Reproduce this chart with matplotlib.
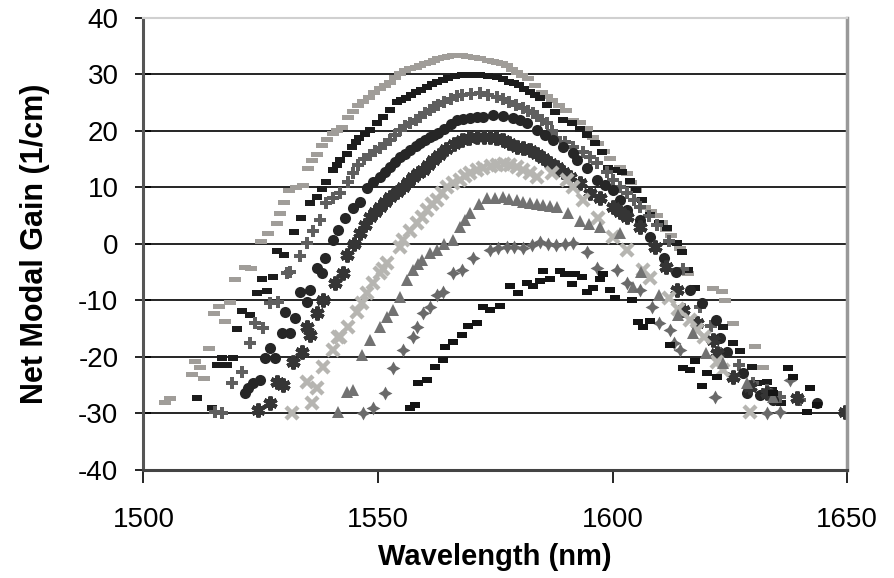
"""Net modal gain spectra at several drive levels (Excel-style scatter)."""

import matplotlib

matplotlib.use("Agg")
import matplotlib.pyplot as plt
from matplotlib.path import Path

# Series, ordered from highest peak gain to lowest.
wl_a = [1504.6, 1505.7, 1510.3, 1511, 1512, 1513, 1514, 1515, 1516, 1517.4, 1518.4,
        1519.5, 1521.6, 1523, 1525, 1526.5, 1528.5, 1529, 1530, 1531, 1532.5, 1534, 1535,
        1536, 1537, 1538, 1539.2, 1540.4, 1541.3, 1542.3, 1543.6, 1544.6, 1545.7, 1546.8,
        1548, 1549.2, 1550.4, 1551.5, 1552.6, 1553.6, 1554.7, 1555.8, 1556.8, 1558, 1559,
        1560, 1561, 1562, 1562.8, 1564, 1565, 1566, 1566.8, 1568, 1569, 1570.4, 1571.8,
        1573.5, 1574.5, 1575.4, 1576.5, 1577.5, 1578.5, 1579.6, 1580.8, 1582, 1583.5,
        1585, 1586, 1587, 1588.5, 1590, 1591.6, 1593, 1594.5, 1595.8, 1597, 1598.2,
        1599.5, 1601.6, 1603, 1604, 1605, 1606, 1607, 1608.3, 1609.5, 1610.5, 1611.5,
        1612.5, 1614.4, 1616, 1621.4, 1623.4, 1624, 1625.7, 1630.4, 1632]
gain_a = [-28, -27.3, -23, -20.7, -21.8, -23.7, -18.4, -12.2, -11, -13.6, -10.3,
          -6.2, -4.1, -4.3, 0.5, 2, 3.7, 5.5, 7.5, 9.6, 10, 10.4, 13.5,
          14.8, 16, 17.5, 18.5, 19.6, 20.2, 20.7, 22.5, 23.5, 24.6, 25.3,
          26, 26.9, 27.6, 28.2, 28.7, 29.5, 30.3, 30.7, 31.1, 31.4, 31.7,
          32, 32.2, 32.6, 32.9, 33.1, 33.3, 33.4, 33.5, 33.4, 33.3, 33.1, 32.9,
          32.6, 32.4, 32.2, 32, 31.7, 31, 30.4, 29.9, 29.4, 28.2,
          26.9, 26.2, 25.5, 24.6, 23.7, 22, 21.5, 20.5, 19, 17.8, 16.5,
          15.2, 13.6, 12.5, 11, 9.5, 8, 6.5, 5.8, 5.1, 3.9, 2.7,
          1.5, -0.7, -5.1, -7.8, -8.3, -9.9, -14, -18, -21.8]

wl_b = [1511.4, 1514.6, 1515.7, 1516.7, 1517.8, 1519, 1519.9, 1521, 1522.7, 1524.2,
        1525.3, 1526.3, 1527.6, 1528.5, 1530, 1532, 1533.5, 1535.5, 1537, 1538, 1539,
        1540.4, 1541.2, 1542, 1543.3, 1544.5, 1545.3, 1546, 1547.2, 1548.3, 1549.8, 1551,
        1552.6, 1554, 1555, 1556, 1557, 1558, 1559.2, 1560.4, 1561.5, 1562.6, 1563.8,
        1565, 1566.5, 1568, 1569.8, 1571.7, 1573.5, 1575.4, 1576.7, 1578, 1579, 1580,
        1581.2, 1582.4, 1583.5, 1584.5, 1586, 1587.7, 1589.5, 1591.4, 1593, 1594.5,
        1596.3, 1597.7, 1599, 1600.5, 1602, 1603.8, 1605, 1606.3, 1608, 1610, 1611.6,
        1613.7, 1614.8, 1616, 1617.6, 1623.6, 1625.7, 1627.2, 1629.8, 1630.8, 1633,
        1634, 1636]
gain_b = [-27.3, -29, -21.4, -20.2, -21.4, -20.2, -15, -11.9, -12.6, -8.7,
          -6.2, -8.3, -5.8, -1.2, -2, 2.1, 4.5, 7.3, 8.3, 9.8, 11,
          13.1, 14, 14.9, 16, 17.2, 18, 18.8, 19.5, 20.2, 21.4, 22.5,
          23.7, 25.1, 25.5, 25.8, 26.4, 26.9, 27.3, 27.8, 28.3, 28.7, 29.1,
          29.4, 29.7, 29.9, 29.9, 29.9, 29.8, 29.6, 29.2, 28.7, 28.4, 28.1,
          27.5, 26.9, 26.3, 25.8, 24.6, 23.3, 21.9, 21.4, 20.3, 19.3,
          17.9, 16.3, 13.5, 13, 12.7, 11.2, 9.5, 7.8, 5.1, 3.7, 2.8,
          0.2, -1.4, -4.6, -7.8, -14.7, -17.5, -19, -21.8, -24.6, -24.4,
          -25.8, -28.1]

wl_c = [1515.2, 1516.7, 1518.9, 1521, 1522.7, 1523.8, 1525.5, 1527, 1528.7, 1530.6,
        1531.2, 1533.4, 1534.9, 1536.2, 1537.6, 1539, 1540.5, 1542, 1543.6, 1544.6,
        1545.7, 1547, 1548.3, 1549.3, 1550.4, 1551.5, 1552.6, 1553.6, 1554.7, 1555.8,
        1556.8, 1558, 1559, 1560, 1561, 1562, 1562.8, 1564, 1565.5, 1566.8, 1568,
        1569.8, 1571.7, 1573.5, 1575.4, 1576.7, 1578, 1579.5, 1581, 1582, 1583, 1584,
        1585, 1586, 1587, 1588, 1589.8, 1591.6, 1593.7, 1595.2, 1596.7, 1598.8, 1600.2,
        1601.6, 1603, 1604.5, 1605.9, 1607.7, 1609.5, 1612, 1615, 1618.7, 1621, 1623,
        1627, 1630, 1633, 1635.7, 1640]
gain_c = [-29.7, -29.9, -24.6, -22.6, -17.5, -14, -14.9, -10.4, -10.3, -5.1,
          -5, -2.1, 0.2, 2.2, 4.2, 7.3, 8.2, 9, 11, 12.5,
          14, 15, 15.8, 16.4, 17, 17.7, 18.4, 19.3, 20.2, 20.8,
          21.4, 22, 22.5, 23.1, 23.7, 24.2, 24.6, 25.1, 25.7, 26.1, 26.4,
          26.6, 26.7, 26.4, 26, 25.6, 25.1, 24.6, 24.1, 23.6, 23.2, 22.6,
          21.9, 21.4, 20, 18.8, 18, 17.2, 16.3, 15.3, 14.3, 12.7, 11.4,
          10.1, 9, 7.8, 6.5, 5, 3.4, 0.5, -4.5, -11.2, -14.5, -19.3,
          -21.5, -24.6, -25.8, -27.1, -27.6]

wl_d = [1521.6, 1522.3, 1523.4, 1524.8, 1525.9, 1527, 1528, 1529.5, 1530.2, 1531.2,
        1532.3, 1533.4, 1534.8, 1535.5, 1537, 1538, 1538.7, 1540.4, 1541.5, 1543, 1544.7,
        1546.2, 1547.6, 1549, 1550.4, 1551.5, 1552.6, 1553.6, 1554.7, 1555.8, 1556.8,
        1558, 1559, 1560, 1561, 1562, 1562.8, 1564, 1565.5, 1566.8, 1568.2, 1569.6,
        1571, 1572.4, 1574.5, 1576.6, 1578.8, 1580.3, 1581.8, 1583.9, 1585.6, 1587.3,
        1589.5, 1591.6, 1592.4, 1594.5, 1596.7, 1598.4, 1600.1, 1601.5, 1603, 1605.9,
        1608, 1611, 1613.5, 1616.5, 1619, 1622, 1622.9, 1624.4, 1627.8, 1628.7, 1631.5,
        1634.2, 1643.6]
gain_d = [-26.4, -25.5, -24.6, -24.1, -20.2, -18.4, -20.2, -15.8, -12, -15.8,
          -13.1, -8.5, -10.3, -8.1, -4.2, -5.1, -2.5, 0.7, 2.5, 4.5, 6.4,
          7.4, 9.9, 11, 11.9, 12.8, 13.6, 14.5, 15.4, 16, 16.6,
          17.3, 17.9, 18.4, 18.9, 19.3, 19.6, 20.3, 21.2, 21.9, 22.1, 22.3,
          22.4, 22.5, 22.8, 22.6, 22.3, 21.9, 21.4, 20.2, 19.3, 18.4,
          17.2, 16.1, 14.9, 13.5, 11.3, 10.4, 9.6, 7.8, 6, 4.2,
          1.2, -2.5, -5, -8.1, -10.5, -13.5, -16.6, -19.1, -22.8, -26.4, -26.7,
          -27.6, -28.1]

wl_e = [1524.4, 1527, 1528.5, 1529.8, 1531.9, 1533.8, 1534.8, 1535.5, 1537, 1538.3,
        1540.8, 1542.5, 1543.4, 1544.8, 1546.2, 1547.2, 1548.3, 1549.4, 1550.4, 1551.5,
        1552.6, 1554, 1555.3, 1556.4, 1557.5, 1558.6, 1559.6, 1560.7, 1561.7, 1563,
        1564.5, 1566.2, 1568, 1569.5, 1571, 1572.5, 1573.9, 1575.2, 1576.6, 1578, 1579.6,
        1581, 1582.4, 1583.8, 1585.2, 1586.7, 1588.2, 1589.5, 1590.9, 1593, 1595.2,
        1597.3, 1600, 1601.5, 1603, 1605.9, 1609, 1611.5, 1613.7, 1615, 1618, 1621.4,
        1622.3, 1625.7, 1629.3, 1633, 1639.4, 1649.6]
gain_e = [-29.4, -28.1, -24.4, -25, -20.9, -19.1, -14.7, -16.1, -12.2, -9.9,
          -6.9, -5.1, -1.9, 0, 1.9, 3.4, 4.8, 5.6, 6.5, 7.4,
          8.3, 9.2, 10.1, 11, 11.9, 12.5, 13.1, 14, 14.9, 15.8,
          16.8, 17.6, 18.4, 18.7, 18.9, 18.9, 18.9, 18.7, 18.4, 17.8, 17.2,
          16.9, 16.6, 15.9, 15.2, 14.4, 13.6, 12.8, 11.9, 10.8, 9,
          8.1, 6.5, 5.6, 4.8, 3, -0.5, -4, -8.1, -11.7, -14, -17,
          -19.3, -23.5, -25.3, -26.4, -27.3, -29.7]

wl_f = [1531.6, 1534.8, 1535.9, 1537, 1538.3, 1540.4, 1541.5, 1542, 1543.6, 1545.5,
        1546.5, 1547.6, 1549, 1550.4, 1551, 1552, 1554.7, 1555.3, 1556.8, 1558.3, 1559.3,
        1560.4, 1561.5, 1562.6, 1563.6, 1564.7, 1566, 1567.5, 1568.5, 1569.6, 1571,
        1572.4, 1574, 1575.4, 1576.8, 1578.2, 1579.6, 1581, 1582.5, 1583.9, 1587,
        1590.3, 1591.6, 1593.7, 1597, 1600.1, 1603, 1606.5, 1608, 1612, 1614, 1616.5,
        1618, 1619.4, 1622.3, 1623.6, 1629.3]
gain_f = [-29.9, -24.4, -28.1, -25.5, -21.8, -18.8, -16.5, -16.5, -14.7, -12,
          -10.5, -8.7, -7, -5.1, -4.5, -3.4, -0.5, 0.7, 2.2, 3.7, 4.8,
          6, 7, 7.8, 9, 10.1, 10.7, 11.3, 12, 12.6, 13,
          13.5, 13.8, 14, 14.1, 14, 13.6, 13.1, 12.5, 11.9, 12.5,
          11.3, 10.1, 7.8, 4.5, 1.2, -1, -4.6, -6, -9.5, -11.5, -13.5,
          -15.2, -16.5, -20.9, -22.3, -29.7]

wl_g = [1541.5, 1543.4, 1544.7, 1546.6, 1548.3, 1550.4, 1552, 1553.2, 1554.7, 1556.2,
        1557.5, 1558.5, 1559.4, 1561, 1562.6, 1564, 1566, 1567.5, 1568.5, 1569.6, 1571.5,
        1573.2, 1575, 1576.6, 1578, 1579.6, 1581, 1582.4, 1583.8, 1585.2, 1586.7,
        1588.2, 1590.5, 1593, 1595, 1597.3, 1601.6, 1604.4, 1606, 1610, 1614, 1617.2,
        1620, 1623.6, 1628.7, 1634.2]
gain_g = [-29.7, -26.2, -25.8, -19.6, -17, -14.7, -12.9, -11.7, -9.4, -6.4,
          -4.6, -3.5, -2.8, -1.6, -1.1, 0, 0.7, 3, 4.2, 5.5, 7,
          8.1, 8.2, 8.3, 8, 7.8, 7.5, 7.3, 7.1, 6.9, 6.7,
          6.5, 5.5, 4, 3.5, 3, 1.9, -7.6, -5, -9, -12.5, -15.8,
          -19.3, -21, -24.6, -27.1]

wl_h = [1546.9, 1549, 1551.5, 1553.2, 1555.3, 1557.5, 1558.3, 1559.6, 1561, 1562.6,
        1563.9, 1566, 1568, 1570.2, 1573.9, 1575.5, 1577.5, 1579, 1581, 1582.8, 1584.5,
        1586.3, 1588, 1589.8, 1591.6, 1594.5, 1596.7, 1601, 1603, 1605.9, 1608.4, 1610,
        1612.3, 1613, 1614.4, 1621.8, 1633, 1635.7, 1637.9]
gain_h = [-29.9, -29, -26.4, -21.9, -18.8, -16.5, -14.7, -12.2, -11.2, -9,
          -8.5, -5.1, -4.6, -2.5, -1.1, -0.8, -0.5, -0.5, -0.7, -0.2, 0.4,
          0, -0.2, 0, 0.2, -1.4, -4.2, -4.6, -6.9, -8.1, -11.2, -14,
          -15.2, -17.5, -18.8, -27.1, -29.9, -29.7, -24.1]

wl_i = [1556.8, 1557.9, 1558.6, 1560.4, 1562.2, 1563.9, 1564.3, 1566, 1567.9, 1569.2,
        1571.1, 1572.4, 1573.9, 1576, 1578.2, 1579.9, 1581.8, 1583.1, 1584.5, 1585.2,
        1586.7, 1588.8, 1589.9, 1591.4, 1592, 1593.5, 1594.5, 1595.9, 1597.3, 1598,
        1599.5, 1600.5, 1604.2, 1605.5, 1606.5, 1608, 1612.3, 1615, 1616.5, 1617.6,
        1619.1, 1620.1, 1622.3, 1634.2, 1637.4, 1638.5, 1641.5, 1642.1, 1643.6]
gain_i = [-29, -28.5, -24.6, -24.1, -21.8, -20.5, -18.2, -17.3, -16.1, -14.5,
          -14, -11.2, -11.7, -11, -7.4, -8.7, -6.9, -7.4, -6.5, -4.8,
          -6.2, -4.8, -5.3, -7.1, -5.3, -5.8, -8.5, -7.8, -6.2, -5.3,
          -8.1, -9.6, -9.9, -13.8, -14.7, -13.6, -17.9, -21.9, -22.3, -20.7,
          -25.1, -22.8, -23.5, -26.4, -21.9, -23.5, -29.7, -25.5, -28.5]

# Excel-like marker shapes
wide_dash = Path([(-1, -0.4), (1, -0.4), (1, 0.4), (-1, 0.4), (-1, -0.4)])
short_dash = Path([(-1, -0.6), (1, -0.6), (1, 0.6), (-1, 0.6), (-1, -0.6)])

plt.rcParams["font.family"] = ["Liberation Sans", "DejaVu Sans"]
plt.rcParams["axes.unicode_minus"] = False

fig = plt.figure(figsize=(8.94, 5.78), dpi=100)
ax = fig.add_axes([0.1605, 0.187, 0.787, 0.782])

ax.plot(wl_a, gain_a, ls="none", marker=wide_dash, ms=9, color="#a09d99", mew=0)
ax.plot(wl_b, gain_b, ls="none", marker=short_dash, ms=6.5, color="#1c1c1c", mew=0)
ax.plot(wl_c, gain_c, ls="none", marker="P", ms=9, color="#5f5f5f", mew=0)
ax.plot(wl_d, gain_d, ls="none", marker="o", ms=8, color="#262626", mew=0)
ax.plot(wl_e, gain_e, ls="none", marker=(6, 2, 0), ms=10, color="#353535", mew=3)
ax.plot(wl_f, gain_f, ls="none", marker="x", ms=8.5, color="#b6b5b1", mew=3.2)
ax.plot(wl_g, gain_g, ls="none", marker="^", ms=8.5, color="#727272", mew=0)
ax.plot(wl_h, gain_h, ls="none", marker=(4, 1, 0), ms=10, color="#6a6a6a", mew=0)
ax.plot(wl_i, gain_i, ls="none", marker=short_dash, ms=6.5, color="#141414", mew=0)

ax.set_xlim(1500, 1650)
ax.set_ylim(-40, 40)
ax.set_xticks([1500, 1550, 1600, 1650])
ax.set_yticks(range(-40, 41, 10))
for y in range(-30, 31, 10):
    ax.axhline(y, color="black", lw=1.2, zorder=0)

ax.spines["left"].set_color("#555555")
ax.spines["left"].set_linewidth(2.2)
ax.spines["bottom"].set_color("#444444")
ax.spines["bottom"].set_linewidth(2.2)
ax.spines["right"].set_color("#999999")
ax.spines["right"].set_linewidth(2.5)
ax.spines["top"].set_color("#d0d0d0")
ax.spines["top"].set_linewidth(1.5)

ax.tick_params(axis="y", direction="inout", length=12, width=1.2, labelsize=20, pad=12)
ax.tick_params(axis="x", direction="out", length=9, width=1.2, labelsize=20, pad=18)

ax.set_xlabel("Wavelength (nm)", fontsize=21, fontweight="bold", labelpad=7)
ax.set_ylabel("Net Modal Gain (1/cm)", fontsize=22, fontweight="bold", labelpad=20)

fig.savefig("out.png", dpi=100)
